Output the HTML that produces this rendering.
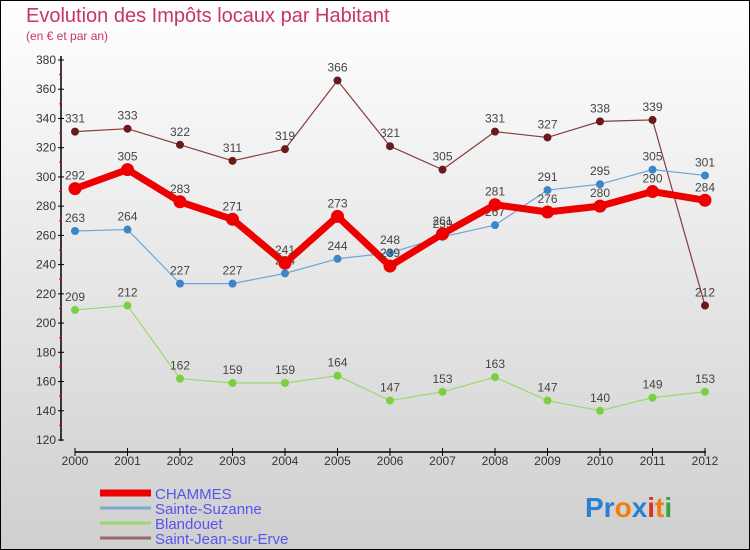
<!DOCTYPE html>
<html><head><meta charset="utf-8"><style>
html,body{margin:0;padding:0}
body{width:750px;height:550px;overflow:hidden;font-family:"Liberation Sans",sans-serif}
svg{display:block}
</style></head><body>
<svg width="750" height="550">
<defs><linearGradient id="bg" x1="0" y1="0" x2="0" y2="1"><stop offset="0" stop-color="#ffffff"/><stop offset="1" stop-color="#cfcfcf"/></linearGradient></defs>
<rect x="0.5" y="0.5" width="749" height="549" fill="url(#bg)" stroke="#000"/>
<text x="26" y="22" font-size="20" fill="#c8336a">Evolution des Impôts locaux par Habitant</text>
<text x="26" y="40" font-size="12" fill="#c8336a">(en € et par an)</text>
<g id="axes"></g>
<g id="series"></g>
<g id="legend"></g>
<text x="585" y="517" font-size="28" font-weight="bold"><tspan fill="#2a7fd0">Pr</tspan><tspan fill="#f07d10">o</tspan><tspan fill="#2a7fd0">x</tspan><tspan fill="#e03020">i</tspan><tspan fill="#f07d10">t</tspan><tspan fill="#3aa040">i</tspan></text>
</svg>
<script>
const years=[2000,2001,2002,2003,2004,2005,2006,2007,2008,2009,2010,2011,2012];
const yTicks=[120,140,160,180,200,220,240,260,280,300,320,340,360,380];
const chammes=[292,305,283,271,241,273,239,261,281,276,280,290,284];
const sainteSuzanne=[263,264,227,227,234,244,248,259,267,291,295,305,301];
const blandouet=[209,212,162,159,159,164,147,153,163,147,140,149,153];
const saintJean=[331,333,322,311,319,366,321,305,331,327,338,339,212];
const NS='http://www.w3.org/2000/svg';
const x=i=>75+i*52.5;
const y=v=>440-(v-120)*380/260;
function mk(tag,attrs,parent){const e=document.createElementNS(NS,tag);for(const k in attrs)e.setAttribute(k,attrs[k]);parent.appendChild(e);return e;}
const axes=document.getElementById('axes');
let a=mk('line',{x1:61,y1:56,x2:61,y2:441,stroke:'#000','stroke-width':1.5},axes);


a=mk('line',{x1:75,y1:452,x2:706,y2:452,stroke:'#000','stroke-width':1.5},axes);


yTicks.forEach((t,i)=>{
  mk('line',{x1:58,x2:64,y1:y(t),y2:y(t),stroke:'#000'},axes);
  if(i<yTicks.length-1)mk('line',{x1:59,x2:62,y1:y(t+10),y2:y(t+10),stroke:'#e00'},axes);
  const l=mk('text',{x:56,y:y(t)+4,'font-size':12,fill:'#333','text-anchor':'end'},axes);
  l.textContent=t;
  
  
});
years.forEach((yr,i)=>{
  mk('line',{x1:x(i),x2:x(i),y1:448,y2:456,stroke:'#000'},axes);
  const l=mk('text',{x:x(i),y:465,'font-size':12,fill:'#333','text-anchor':'middle'},axes);
  l.textContent=yr;
  
  
});
const ser=document.getElementById('series');
function draw(vals,color,w,r,name,dot,labels){
  const g=mk('g',{},ser);
  
  
  const p=mk('polyline',{points:vals.map((v,i)=>x(i)+','+y(v)).join(' '),fill:'none',stroke:color,'stroke-width':w,'stroke-linejoin':'round'},g);
  
  
  vals.forEach((v,i)=>{
    const c=mk('circle',{cx:x(i),cy:y(v),r:r,fill:dot,stroke:dot},g);
    
    
    const t=mk('text',{x:x(i),y:y(v)-9,'font-size':12,fill:'#444','text-anchor':'middle'},g);
    t.textContent=v;
    
    
  });
}
draw(saintJean,'#8a3a3a',1.2,3.5,'saint-jean-sur-erve','#6b1a1a');
draw(blandouet,'#9ad870',1.2,3.5,'blandouet','#7ad040');
draw(sainteSuzanne,'#6aa6d8',1.2,3.5,'sainte-suzanne','#3a86c8');
draw(chammes,'#ee0000',7,6,'chammes','#ee0000');
const lg=document.getElementById('legend');
[['CHAMMES','#ee0000',7],['Sainte-Suzanne','#7aaad0',3],['Blandouet','#9ad870',3],['Saint-Jean-sur-Erve','#9a6a6a',3]].forEach((e,i)=>{
  const yy=493+i*15;
  const l=mk('line',{x1:100,x2:151,y1:yy,y2:yy,stroke:e[1],'stroke-width':e[2]},lg);
  
  
  const t=mk('text',{x:155,y:yy+6,'font-size':15,fill:'#5555ee'},lg);
  t.textContent=e[0];
  
  
});
</script>
</body></html>
